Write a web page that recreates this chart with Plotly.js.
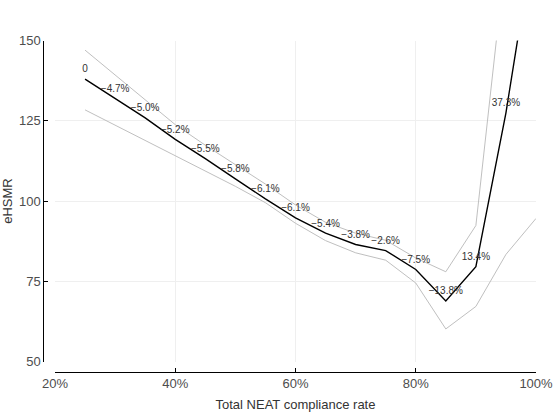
<!DOCTYPE html>
<html>
<head>
<meta charset="utf-8">
<script src="https://cdn.plot.ly/plotly-3.0.1.min.js"></script>
<style>html,body{margin:0;padding:0;background:#fff;}#chart{width:555px;height:412px;}</style>
</head>
<body>
<div id="chart"></div>
<script>
// Data
var compliance = [0.25, 0.30, 0.35, 0.40, 0.45, 0.50, 0.55, 0.60, 0.65, 0.70, 0.75, 0.80, 0.85, 0.90, 0.95, 1.00];
var ehsmr      = [138.0, 131.9, 125.9, 119.2, 113.2, 106.9, 100.7, 94.8, 90.0, 86.5, 84.6, 78.7, 68.9, 79.6, 127.5, 186.0];
var upperCI    = [147.0, 139.3, 131.5, 123.8, 117.4, 111.3, 105.3, 98.8, 93.4, 90.0, 87.8, 82.3, 78.0, 92.4, 177.0, 230.0];
var lowerCI    = [128.4, 123.6, 118.9, 114.1, 109.4, 104.6, 99.5, 93.1, 87.7, 83.9, 81.6, 74.5, 60.2, 67.2, 83.4, 94.6];
var changeLabels = ["0", "\u22124.7%", "\u22125.0%", "\u22125.2%", "\u22125.5%", "\u22125.8%", "\u22126.1%", "\u22126.1%",
                    "\u22125.4%", "\u22123.8%", "\u22122.6%", "\u22127.5%", "\u221213.8%", "13.4%", "37.3%", ""];
var xTickVals = [0.2, 0.4, 0.6, 0.8, 1.0];
var xTickText = ["20%", "40%", "60%", "80%", "100%"];
var yTickVals = [50, 75, 100, 125, 150];

var W = 555, H = 412;
var traces = [
  {x: compliance, y: upperCI, type: 'scatter', mode: 'lines', line: {color: '#b8b8b8', width: 0.9}, hoverinfo: 'skip'},
  {x: compliance, y: lowerCI, type: 'scatter', mode: 'lines', line: {color: '#b8b8b8', width: 0.9}, hoverinfo: 'skip'},
  {x: compliance, y: ehsmr, type: 'scatter', mode: 'lines+markers+text', text: changeLabels, textposition: 'top center',
   marker: {size: 5, color: 'rgba(0,0,0,0)', line: {width: 0}},
   textfont: {family: 'Liberation Sans, Arial, sans-serif', size: 10, color: '#333333'},
   line: {color: '#000000', width: 1.4}}
];

var layout = {
  width: W, height: H,
  margin: {l: 0, r: 0, t: 0, b: 0},
  paper_bgcolor: '#ffffff', plot_bgcolor: '#ffffff',
  showlegend: false,
  font: {family: 'Liberation Sans, Arial, sans-serif', size: 13, color: '#4d4d4d'},
  xaxis: {
    domain: [55 / W, 536 / W],
    range: [0.2, 1.0],
    anchor: 'free', position: (H - 371.7) / H,
    tickvals: xTickVals, ticktext: xTickText,
    ticks: 'inside', ticklen: 4, tickwidth: 1, tickcolor: '#000',
    showline: true, linecolor: '#000', linewidth: 1,
    showgrid: true, gridcolor: '#efefef', gridwidth: 1,
    zeroline: false,
    tickfont: {size: 13, color: '#4d4d4d'},
    title: {text: 'Total NEAT compliance rate', font: {size: 13, color: '#333333'}, standoff: 12}
  },
  yaxis: {
    domain: [(H - 361.7) / H, (H - 40.5) / H],
    range: [50, 150],
    anchor: 'free', position: 43.3 / W,
    tickvals: yTickVals,
    ticks: 'inside', ticklen: 3.5, tickwidth: 1, tickcolor: '#000',
    showline: true, linecolor: '#000', linewidth: 1,
    showgrid: true, gridcolor: '#efefef', gridwidth: 1,
    zeroline: false,
    tickfont: {size: 13, color: '#4d4d4d'},
    title: {text: 'eHSMR', font: {size: 13, color: '#333333'}, standoff: 6}
  }
};

Plotly.newPlot('chart', traces, layout, {displayModeBar: false, staticPlot: true});
</script>
</body>
</html>
